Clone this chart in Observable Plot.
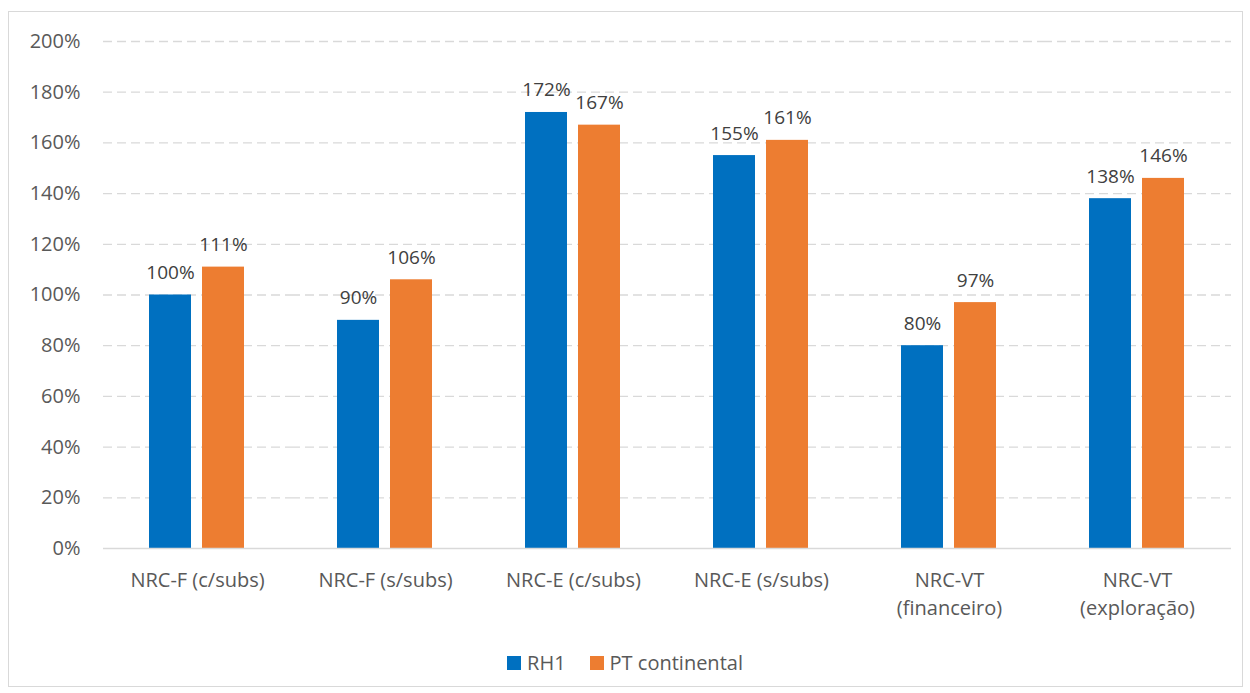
<!DOCTYPE html>
<html><head><meta charset="utf-8">
<script src="https://cdn.jsdelivr.net/npm/d3@7"></script>
<script src="https://cdn.jsdelivr.net/npm/@observablehq/plot@0.6"></script>
<style>
body{margin:0;background:#fff;font-family:"Open Sans",sans-serif;}
#wrap{position:relative;width:1250px;height:693px;}
#frame{position:absolute;left:8px;top:11px;width:1235px;height:676px;border:1px solid #d9d9d9;box-sizing:border-box;}
#chart{position:absolute;left:0;top:0;}
#legend{position:absolute;top:649px;left:0;width:1250px;height:28px;line-height:28px;display:flex;justify-content:center;gap:24px;font-size:20px;color:#595959;}
#legend span.item{display:flex;align-items:center;gap:6px;}
#legend i{display:inline-block;width:14px;height:14px;}
</style></head>
<body><div id="wrap"><div id="frame"></div><div id="chart"></div><div id="legend"></div></div>
<script>
const categories = ["NRC-F (c/subs)","NRC-F (s/subs)","NRC-E (c/subs)","NRC-E (s/subs)","NRC-VT\n(financeiro)","NRC-VT\n(exploração)"];
const seriesNames = ["RH1","PT continental"];
const rh1 = [100,90,172,155,80,138];
const ptContinental = [111,106,167,161,97,146];
const colors = ["#0070C0","#ED7D31"];
const yTicks = [0,20,40,60,80,100,120,140,160,180,200];

const data = [];
categories.forEach((c,i)=>{
  data.push({cat:c, series:seriesNames[0], value:rh1[i]});
  data.push({cat:c, series:seriesNames[1], value:ptContinental[i]});
});

const chart = Plot.plot({
  width:1250, height:640,
  marginLeft:102, marginRight:18, marginTop:41, marginBottom:92,
  style:{fontFamily:"'Open Sans', sans-serif", fontSize:"20px", color:"#595959", background:"transparent"},
  fx:{domain:categories, padding:0, label:null, axis:null},
  x:{domain:seriesNames, paddingInner:0.204, paddingOuter:0.843, axis:null},
  y:{domain:[0,200], ticks:yTicks, label:null},
  color:{domain:seriesNames, range:colors},
  marks:[
    Plot.ruleY(yTicks.filter(d=>d>0), {stroke:"#d9d9d9", strokeWidth:1.3, strokeDasharray:"9,5"}),
    Plot.axisY({ticks:yTicks, tickSize:0, tickPadding:23, tickFormat:d=>d+"%", label:null, fontSize:20, fill:"#595959"}),
    Plot.axisFx({anchor:"bottom", tickSize:0, tickPadding:19, label:null, lineHeight:1.4, fontSize:20, fill:"#595959"}),
    Plot.barY(data, {fx:"cat", x:"series", y:"value", fill:"series"}),
    Plot.ruleY([0], {stroke:"#d9d9d9", strokeWidth:1.5}),
    Plot.text(data, {fx:"cat", x:"series", y:"value", text:d=>d.value+"%", dy:-16, lineAnchor:"bottom", fill:"#404040", fontSize:19})
  ]
});
document.getElementById("chart").appendChild(chart);

const legend = document.getElementById("legend");
seriesNames.forEach((s,i)=>{
  const item = document.createElement("span");
  item.className="item";
  const sw = document.createElement("i");
  sw.style.background = colors[i];
  item.appendChild(sw);
  item.appendChild(document.createTextNode(s));
  legend.appendChild(item);
});
</script></body></html>
